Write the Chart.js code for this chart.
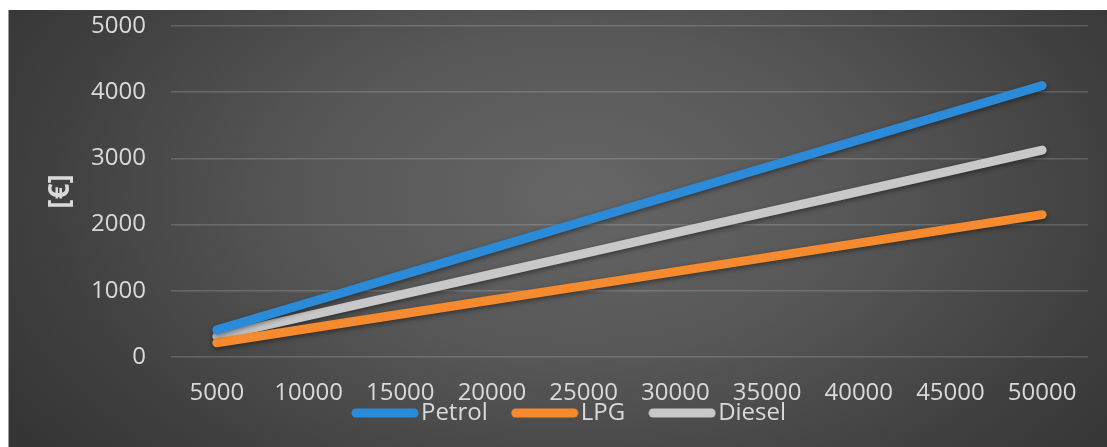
<!DOCTYPE html>
<html>
<head>
<meta charset="utf-8">
<title>Fuel cost by distance</title>
<script src="https://cdn.jsdelivr.net/npm/chart.js@4.4.1/dist/chart.umd.min.js"></script>
<style>
  html, body { margin: 0; padding: 0; background: #ffffff; }
  #frame {
    position: absolute; left: 9px; top: 10px; width: 1098px; height: 437px;
    background: radial-gradient(ellipse 62% 95% at 52% 42%, #666666 0%, #575757 40%, #404040 78%, #353535 100%);
    box-shadow: -1px 0 0 #9a9a9a;
  }
  canvas { display: block; }
</style>
</head>
<body>
<div id="frame"><canvas id="chart"></canvas></div>
<script>
// Annual distance driven (km)
const distances = ['5000', '10000', '15000', '20000', '25000', '30000', '35000', '40000', '45000', '50000'];
// Fuel cost per year [€]
const petrolCost = [410, 820, 1230, 1640, 2050, 2460, 2870, 3280, 3690, 4100];
const lpgCost    = [215, 430, 645, 860, 1075, 1290, 1505, 1720, 1935, 2150];
const dieselCost = [312, 625, 938, 1250, 1563, 1875, 2188, 2500, 2813, 3125];
// Value axis ticks
const yTicks = [0, 1000, 2000, 3000, 4000, 5000];

const TEXT = '#d9d9d9';
const FONT = "'Open Sans', 'Noto Sans', sans-serif";

// Soft drop shadow under each line
const lineShadow = {
  id: 'lineShadow',
  beforeDatasetDraw(chart) {
    const ctx = chart.ctx;
    ctx.save();
    ctx.shadowColor = 'rgba(0,0,0,0.45)';
    ctx.shadowBlur = 5;
    ctx.shadowOffsetY = 2;
  },
  afterDatasetDraw(chart) {
    chart.ctx.restore();
  }
};

// Legend sits tight under the category labels, slightly right of centre;
// the category axis box is extended so its labels are not clipped.
const legendPlacement = {
  id: 'legendPlacement',
  afterLayout(chart) {
    const area = chart.chartArea;
    const xs = chart.scales.x;
    xs.bottom = xs.top + 52;
    const lg = chart.legend;
    const h = lg.bottom - lg.top;
    lg.top = area.bottom + 11;
    lg.bottom = lg.top + h;
    lg.left += 25;
    lg.right += 25;
  }
};

// Long rounded legend swatch, a little wider than the legend box so it
// runs right up to the label text.
function swatch(color) {
  const c = document.createElement('canvas');
  c.width = 68;
  c.height = 12;
  const g = c.getContext('2d');
  g.strokeStyle = color;
  g.lineWidth = 9;
  g.lineCap = 'round';
  g.beginPath();
  g.moveTo(5, 6);
  g.lineTo(63, 6);
  g.stroke();
  return c;
}

const series = (label, data, color) => ({
  label, data,
  borderColor: color,
  backgroundColor: color,
  borderWidth: 9,
  borderCapStyle: 'round',
  borderJoinStyle: 'round',
  pointRadius: 0,
  pointHoverRadius: 0,
  tension: 0,
  fill: false
});

new Chart(document.getElementById('chart'), {
  type: 'line',
  data: {
    labels: distances,
    datasets: [
      series('Petrol', petrolCost, '#2b8bd8'),
      series('LPG', lpgCost, '#f58a2e'),
      series('Diesel', dieselCost, '#c8c8c8')
    ]
  },
  plugins: [lineShadow, legendPlacement],
  options: {
    responsive: true,
    maintainAspectRatio: false,
    animation: false,
    layout: { padding: { left: 0, right: 19, top: 16, bottom: 0 } },
    plugins: {
      tooltip: { enabled: false },
      legend: {
        position: 'bottom',
        labels: {
          usePointStyle: true,
          pointStyleWidth: 48,
          boxHeight: 8,
          padding: 33,
          color: TEXT,
          font: { family: FONT, size: 24 },
          generateLabels(chart) {
            const items = Chart.defaults.plugins.legend.labels.generateLabels(chart);
            items.forEach(it => {
              it.pointStyle = swatch(chart.data.datasets[it.datasetIndex].borderColor);
            });
            return items;
          }
        }
      }
    },
    scales: {
      x: {
        offset: true,
        grid: { display: false, drawTicks: false },
        border: { display: false },
        ticks: {
          color: TEXT,
          font: { family: FONT, size: 24 },
          padding: 22,
          autoSkip: false,
          maxRotation: 0
        },
        afterFit(scale) { scale.height = 23; }
      },
      y: {
        min: yTicks[0],
        max: yTicks[yTicks.length - 1],
        afterBuildTicks(scale) { scale.ticks = yTicks.map(v => ({ value: v })); },
        grid: { color: 'rgba(255,255,255,0.17)', lineWidth: 1.5, drawTicks: false },
        border: { display: false },
        ticks: {
          color: TEXT,
          font: { family: FONT, size: 24 },
          padding: 25,
          callback: v => String(v)
        },
        title: {
          display: true,
          text: '[€]',
          color: TEXT,
          font: { family: FONT, size: 28, weight: 'bold' },
          padding: { top: 35, bottom: 0 }
        },
        afterFit(scale) {
          scale.width = 162;
          scale.paddingTop = 0;
          scale.paddingBottom = 0;
        }
      }
    }
  }
});
</script>
</body>
</html>
